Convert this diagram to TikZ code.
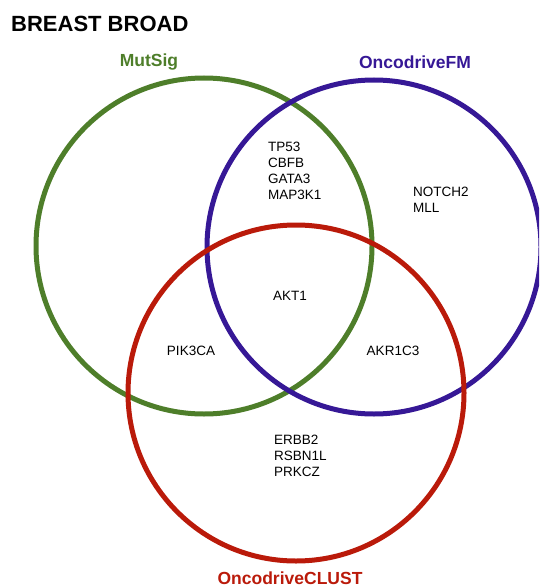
\documentclass[tikz,border=0pt]{standalone}
\usepackage{fontspec}
\setmainfont{Liberation Sans}
\definecolor{cgreen}{RGB}{78,126,42}
\definecolor{cpurple}{RGB}{54,24,150}
\definecolor{cred}{RGB}{186,26,10}
\begin{document}
\begin{tikzpicture}[x=1pt,y=-1pt,
  setcircle/.style={circle,draw,line width=5pt,inner sep=0pt,minimum size=#1},
  setlabel/.style={font=\bfseries\fontsize{17.5}{20}\selectfont,inner sep=0pt},
  gene/.style={font=\fontsize{13.5}{16}\selectfont,inner sep=0pt,align=left}]
\useasboundingbox (0,0) rectangle (539,588);
\clip (0,0) rectangle (539,588);
\node[setcircle=336pt,cgreen] (mutsig) at (204,246) {};
\node[setcircle=334pt,cpurple] (fm) at (374,247) {};
\node[setcircle=336pt,cred] (clust) at (296,393) {};
\node[anchor=base west,inner sep=0pt,font=\bfseries\fontsize{22}{26}\selectfont] (title) at (11,32) {BREAST BROAD};
\node[setlabel,text=cgreen] (lmut) at (149,62) {MutSig};
\node[setlabel,text=cpurple] (lfm) at (415,62) {OncodriveFM};
\node[setlabel,text=cred] (lclust) at (290,578) {OncodriveCLUST};
\node[gene,anchor=north west] (g1) at (268,142) {TP53\\CBFB\\GATA3\\MAP3K1};
\node[gene,anchor=north west] (g2) at (413,187) {NOTCH2\\MLL};
\node[gene] (g3) at (290,296) {AKT1};
\node[gene] (g4) at (191,351) {PIK3CA};
\node[gene] (g5) at (393,351) {AKR1C3};
\node[gene,anchor=north west] (g6) at (274,435) {ERBB2\\RSBN1L\\PRKCZ};
\end{tikzpicture}
\end{document}
